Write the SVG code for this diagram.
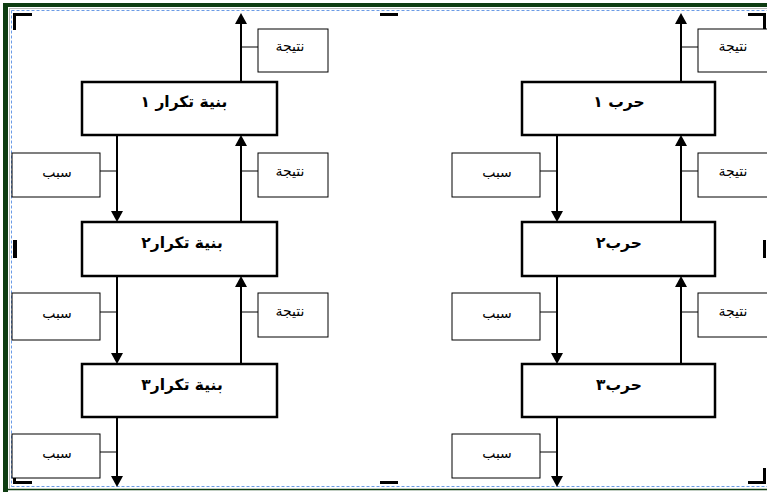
<svg xmlns="http://www.w3.org/2000/svg" width="767" height="492" viewBox="0 0 767 492">
<defs>
<style>
.main{fill:#fff;stroke:#000;stroke-width:2.5}
.small{fill:#fff;stroke:#000;stroke-width:1}
.flow{stroke:#000;stroke-width:2;fill:none}
.tie{stroke:#000;stroke-width:1;fill:none}
.mt{font-family:"DejaVu Sans","Noto Sans",sans-serif;font-weight:bold;font-size:15.5px;text-anchor:middle;direction:rtl}
.st{font-family:"DejaVu Sans","Noto Sans",sans-serif;font-size:14px;text-anchor:middle;direction:rtl}
.mark{fill:#000}
</style>
<marker id="ah" markerUnits="userSpaceOnUse" markerWidth="12" markerHeight="12" refX="0" refY="6" orient="auto">
<path d="M0,0 L11,6 L0,12 Z" fill="#000"/>
</marker>
</defs>
<rect width="767" height="492" fill="#fff"/>
<g id="frame">
<rect x="3" y="3" width="764" height="4" fill="#0e3d12"/>
<rect x="3" y="3" width="5" height="489" fill="#0e3d12"/>
<line x1="3" y1="489.5" x2="767" y2="489.5" stroke="#0e3d12" stroke-width="1.5"/>
<line x1="9.5" y1="8" x2="9.5" y2="489" stroke="#bbb" stroke-width="1"/>
<line x1="9" y1="8.5" x2="767" y2="8.5" stroke="#bbb" stroke-width="1"/>
<line x1="11.5" y1="10.5" x2="767" y2="10.5" stroke="#6a9be6" stroke-width="1" stroke-dasharray="3,2"/>
<line x1="11.5" y1="10.5" x2="11.5" y2="486.5" stroke="#6a9be6" stroke-width="1" stroke-dasharray="3,2"/>
<line x1="11.5" y1="486.5" x2="767" y2="486.5" stroke="#6a9be6" stroke-width="1" stroke-dasharray="3,2"/>
<path class="mark" d="M13,13 H32 V16 H16 V30 H13 Z"/>
<rect class="mark" x="380" y="13" width="18" height="3"/>
<path class="mark" d="M748,13 H766 V30 H763 V16 H748 Z"/>
<rect class="mark" x="13" y="240" width="4" height="18"/>
<rect class="mark" x="763" y="240" width="3" height="18"/>
<path class="mark" d="M13,470 H16 V481 H32 V484 H13 Z"/>
<rect class="mark" x="380" y="481" width="18" height="3"/>
<path class="mark" d="M763,468 H766 V484 H748 V481 H763 Z"/>
</g>
<g id="connectors">
<line class="flow" x1="241" y1="82" x2="241" y2="24" marker-end="url(#ah)"/>
<line class="flow" x1="241" y1="222" x2="241" y2="146" marker-end="url(#ah)"/>
<line class="flow" x1="241" y1="364" x2="241" y2="287" marker-end="url(#ah)"/>
<line class="flow" x1="117" y1="135" x2="117" y2="211" marker-end="url(#ah)"/>
<line class="flow" x1="117" y1="276" x2="117" y2="353" marker-end="url(#ah)"/>
<line class="flow" x1="117" y1="417" x2="117" y2="476" marker-end="url(#ah)"/>
<line class="tie" x1="241" y1="47" x2="258" y2="47"/>
<line class="tie" x1="241" y1="171" x2="258" y2="171"/>
<line class="tie" x1="241" y1="312" x2="258" y2="312"/>
<line class="tie" x1="100" y1="171" x2="117" y2="171"/>
<line class="tie" x1="100" y1="312" x2="117" y2="312"/>
<line class="tie" x1="100" y1="452" x2="117" y2="452"/>
<line class="flow" x1="681" y1="82" x2="681" y2="24" marker-end="url(#ah)"/>
<line class="flow" x1="681" y1="222" x2="681" y2="146" marker-end="url(#ah)"/>
<line class="flow" x1="681" y1="364" x2="681" y2="287" marker-end="url(#ah)"/>
<line class="flow" x1="557" y1="135" x2="557" y2="211" marker-end="url(#ah)"/>
<line class="flow" x1="557" y1="276" x2="557" y2="353" marker-end="url(#ah)"/>
<line class="flow" x1="557" y1="417" x2="557" y2="476" marker-end="url(#ah)"/>
<line class="tie" x1="681" y1="47" x2="698" y2="47"/>
<line class="tie" x1="681" y1="171" x2="698" y2="171"/>
<line class="tie" x1="681" y1="312" x2="698" y2="312"/>
<line class="tie" x1="540" y1="171" x2="557" y2="171"/>
<line class="tie" x1="540" y1="312" x2="557" y2="312"/>
<line class="tie" x1="540" y1="452" x2="557" y2="452"/>
</g>
<g id="L1"><rect class="main" x="82" y="82" width="195" height="53"/><text class="mt" x="184" y="107">بنية تكرار ١</text></g>
<g id="L2"><rect class="main" x="82" y="222" width="195" height="54"/><text class="mt" x="182" y="248">بنية تكرار٢</text></g>
<g id="L3"><rect class="main" x="82" y="364" width="195" height="53"/><text class="mt" x="182" y="390">بنية تكرار٣</text></g>
<g id="LR1"><rect class="small" x="258" y="29" width="70" height="43"/><text class="st" x="290" y="51">نتيجة</text></g>
<g id="LR2"><rect class="small" x="258" y="153" width="70" height="44"/><text class="st" x="290" y="176">نتيجة</text></g>
<g id="LR3"><rect class="small" x="258" y="293" width="70" height="44"/><text class="st" x="290" y="316">نتيجة</text></g>
<g id="LC1"><rect class="small" x="12" y="153" width="88" height="44"/><text class="st" x="57" y="177">سبب</text></g>
<g id="LC2"><rect class="small" x="12" y="293" width="88" height="47"/><text class="st" x="57" y="318">سبب</text></g>
<g id="LC3"><rect class="small" x="12" y="434" width="88" height="44"/><text class="st" x="57" y="458">سبب</text></g>
<g id="R1"><rect class="main" x="522" y="82" width="193" height="53"/><text class="mt" x="619" y="107">حرب ١</text></g>
<g id="R2"><rect class="main" x="522" y="222" width="193" height="54"/><text class="mt" x="619" y="248">حرب٢</text></g>
<g id="R3"><rect class="main" x="522" y="364" width="193" height="53"/><text class="mt" x="619" y="390">حرب٣</text></g>
<g id="RR1"><rect class="small" x="698" y="29" width="72" height="43"/><text class="st" x="733" y="51">نتيجة</text></g>
<g id="RR2"><rect class="small" x="698" y="153" width="72" height="44"/><text class="st" x="733" y="176">نتيجة</text></g>
<g id="RR3"><rect class="small" x="698" y="293" width="72" height="44"/><text class="st" x="733" y="316">نتيجة</text></g>
<g id="RC1"><rect class="small" x="452" y="153" width="88" height="44"/><text class="st" x="497" y="177">سبب</text></g>
<g id="RC2"><rect class="small" x="452" y="293" width="88" height="47"/><text class="st" x="497" y="318">سبب</text></g>
<g id="RC3"><rect class="small" x="452" y="434" width="88" height="44"/><text class="st" x="497" y="458">سبب</text></g>
</svg>
